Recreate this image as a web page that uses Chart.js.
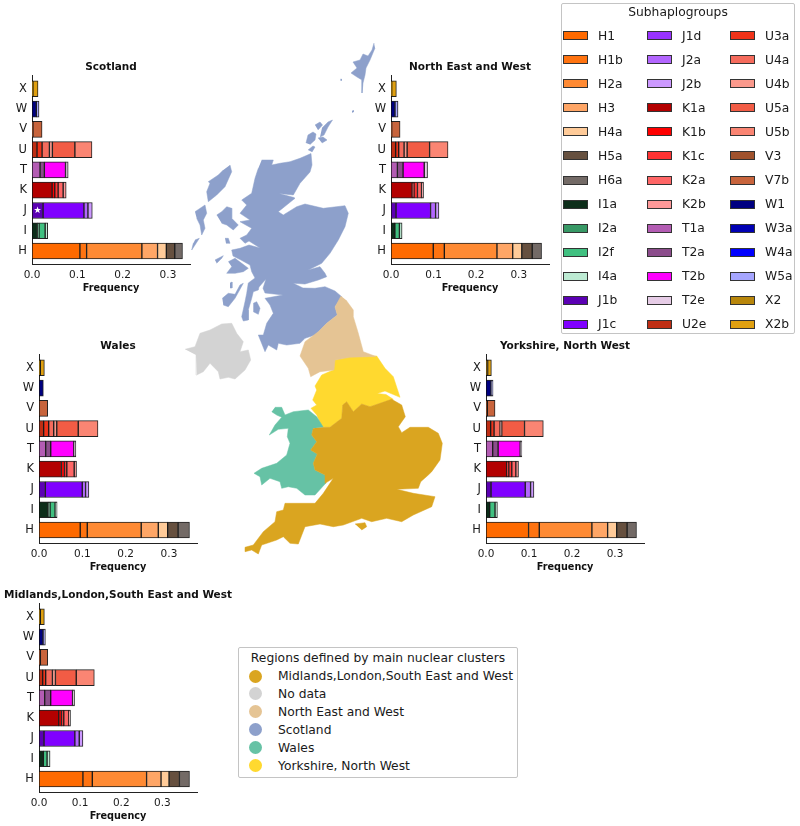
<!DOCTYPE html>
<html><head><meta charset="utf-8">
<style>
html,body{margin:0;padding:0;background:#fff;width:800px;height:826px;overflow:hidden;font-family:"DejaVu Sans",sans-serif;color:#1a1a1a}
canvas{position:absolute;display:block}
.box{position:absolute;box-sizing:border-box;border:1px solid #c4c4c4;border-radius:2px;background:#fff}
.t{position:absolute;white-space:nowrap;line-height:16px;height:16px}
.s{position:absolute;box-sizing:border-box;border:1px solid #333}
.c{position:absolute;box-sizing:border-box;border-radius:50%}
</style>
<script src="https://cdn.jsdelivr.net/npm/chart.js@4/dist/chart.umd.min.js"></script>
</head><body>
<script>
// ---------- haplogroup data ----------
const categories = ['H','I','J','K','T','U','V','W','X'];
const subhaplogroups = ['H1','H1b','H2a','H3','H4a','H5a','H6a','I1a','I2a','I2f','I4a','J1b','J1c','J1d','J2a','J2b','K1a','K1b','K1c','K2a','K2b','T1a','T2a','T2b','T2e','U2e','U3a','U4a','U4b','U5a','U5b','V3','V7b','W1','W3a','W4a','W5a','X2','X2b'];
const subColors = ['#ff6a00','#ff7310','#ff8a33','#ffa666','#ffcb99','#66503f','#736a66','#0d2e1a','#389966','#40c080','#bdebd3','#5b00b3','#8000ff','#9933ff','#b366ff','#cc99ff','#b30000','#ff0000','#ff3333','#ff6666','#ff9999','#b35cb3','#8c4d8c','#ff00ff','#e6cce6','#bf2e14','#f03319','#f56b5c','#fa998c','#f25c45','#fa8573','#a0522d','#c8643c','#000080','#0000b3','#0000ff','#a6a6ff','#b8860b','#e0a010'];
const scotlandFreq = [.1057,.0148,.1219,.0346,.0194,.0186,.017, .012,.0035,.0135,.0057, .0244,.0902,0,.0088,.0096, .0443,.006,.0073,.0111,.0067, .0177,.0096,.0466,.0059, .011,.0112,.0162,.0066,.0496,.0377, .002,.0202, .0096,0,0,.0059, .002,.0113];
const northEastFreq = [.0992,.026,.1236,.037,.0213,.0244,.022, .0087,.0005,.0105,.0063, .0118,.0811,0,.0118,.0079, .0496,.0044,.0082,.0095,.0047, .015,.0133,.0497,.0078, .011,.0071,.0126,.0071,.0528,.0433, .0016,.0197, .0094,0,0,.0071, .0016,.011];
const walesFreq = [.0951,.0163,.1245,.0394,.0217,.024,.0263, .0209,.0046,.0116,.0047, .0147,.0851,0,.0077,.0077, .0518,.007,.0054,.017,.0054, .0155,.0116,.0533,.0047, .0108,.0116,.0116,.007,.0495,.0456, .0008,.0193, .01,0,0,0, .003,.0094];
const yorkshireFreq = [.099,.0249,.1224,.0366,.0211,.0241,.0219, .0086,0,.0124,.0055, .0117,.0795,0,.0125,.0078, .0483,.0047,.007,.0094,.0062, .0156,.0125,.0514,.0039, .0109,.0078,.014,.0039,.053,.0437, .0031,.0179, .0117,0,0,.0047, .0039,.0086];
const midlandsFreq = [.1068,.0228,.132,.0351,.0195,.0253,.0244, .0106,0,.009,.0073, .0122,.075,0,.0106,.009, .0481,.0065,.0057,.0122,.0041, .0139,.0146,.053,.0049, .009,.0073,.0163,.0074,.0505,.044, .0033,.0179, .0098,0,0,.0057, .0033,.0097];
const xTicks = [0,0.1,0.2,0.3];
const starMark = {region:'Scotland', category:'J', value:0.012, text:'★'};

// ---------- panels ----------
const panels = [
 {title:'Scotland', values:scotlandFreq, xMax:.3486, left:32, top:75},
 {title:'North East and West', values:northEastFreq, xMax:.371, left:391, top:75},
 {title:'Wales', values:walesFreq, xMax:.3647, left:39, top:354},
 {title:'Yorkshire, North West', values:yorkshireFreq, xMax:.3675, left:486, top:354},
 {title:'Midlands,London,South East and West', values:midlandsFreq, xMax:.3842, left:39, top:603}
];

// ---------- map outlines (map units) ----------
const scotlandMainland = [[261.7,160],[273.3,160],[271.7,165],[280,163.3],[290,161.7],[300,158.3],[311,153.5],[312,165],[310,172],[300,183.3],[293.3,195],[279,193.5],[294,197.5],[295,198.3],[278.3,211.7],[283.3,215],[296.7,206.7],[305,204],[323.3,208.3],[345,205.7],[348.3,213.3],[345,226.7],[338.3,240],[330,253.3],[321.7,263.3],[308.3,270],[320,266.7],[325,273.3],[326.7,276.7],[318.3,280],[305,284],[293.3,283.3],[303,288],[315,288.3],[325,286.7],[335,291],[341.7,296.7],[335,306.7],[337.3,315],[326.7,323.3],[318.3,331.7],[315,335],[305,338.3],[300,343.3],[286.7,345],[278.3,343.3],[276.7,350],[268.3,345],[265,351.7],[258.3,335],[263.3,335],[266.7,323.3],[273.3,313.3],[270,305],[265,298.3],[283,295],[265,293],[263,288.3],[266,279],[259,287],[258.3,290],[253.3,291.7],[251.7,298.3],[248.3,310],[248.3,320],[243.3,321],[241.7,316.7],[245,301.7],[246.7,293.3],[248.3,283],[255,278],[251.7,271.7],[250,265],[241,260],[233,256],[231.7,250],[240,248.3],[249,245],[260,248],[249,241],[245,243.3],[240,238.3],[246.7,235],[251.7,228.3],[240,221.7],[250,220],[240,213.3],[246.7,205],[241.7,200],[251.7,193.3],[255,178.3],[258.3,168.3]];
const lewisHarris = [[230,165],[231.7,171.7],[225,186.7],[216.7,195],[208.3,201.7],[206.7,191.7],[210,183.3],[208.3,181.7],[218.3,175],[223.3,170]];
const scotlandOutlines = [
 scotlandMainland, lewisHarris,
 [[195,211.7],[205,205],[206.7,213.3],[203.3,220],[205,228.3],[201.7,235],[200,225],[196.7,218.3]],
 [[195,240],[199.3,238.3],[195,245],[191.7,250],[193.3,243.3]],
 [[216.7,215],[221.7,211.7],[226.7,206.7],[231.7,208.3],[231.7,218.3],[238.3,225],[233.3,230],[226.7,225],[221.7,223.3]],
 [[225,238.3],[228.3,238.3],[230,243.3],[226,243.3]],
 [[215,260],[223.3,255.7],[221.7,258.3],[216.7,263.3]],
 [[228.3,261.7],[235,258.3],[241.7,263.3],[248.3,268.3],[243.3,271.7],[235,273.3],[226.7,273.3],[231.7,266.7]],
 [[222.3,298.3],[228.3,293.3],[235,294.3],[240,285],[243.3,283.3],[235,298.3],[228.3,306.7],[223.3,305]],
 [[253.3,303.3],[256.7,301.7],[260,308.3],[258.3,314.3],[253.3,311.7]],
 [[230,283],[232,282],[232,288],[230,288]],
 [[306,143],[308,135],[313,132],[316,134],[315,140],[310,144.5]],
 [[308,150],[313,146],[315,147],[312,152]],
 [[315,125],[320,122],[322.5,125],[318,130]],
 [[322,128],[328,122],[332.5,120],[328,127],[324,135],[320,137]],
 [[318,138],[323,137],[327,140],[322,143]],
 [[374,43],[372,50],[368,56],[363,54],[360,60],[353,62],[357,68],[351,73],[357,77],[362,80],[362,93],[363,83],[365,75],[366,68],[370,60],[375,48]],
 [[340.5,79],[341.5,79],[341.5,80.5],[340.5,80.5]],
 [[352,111],[353.5,110.5],[353.5,112],[352,112.5]]
];
const noDataOutlines = [
 [[185,349.3],[195,346.7],[200,333.3],[210,330],[221.7,324],[231.7,323.3],[236.7,333.3],[243.3,341.7],[240,351.7],[248.3,350],[250.7,360],[245,370],[235,379],[228.3,377.3],[220,379],[218.3,371.7],[210,363.3],[203.3,371.7],[196.7,375],[196,355]]
];
const northEastOutlines = [
 [[341,296],[335,307],[337.3,315],[326.7,323.3],[318.3,331.7],[305,341.7],[300,356],[308.3,368.3],[310.7,376.7],[320,371.7],[334,370],[335,360],[350,357.3],[376,356.5],[363.3,351.7],[358.3,333.3],[353.3,316.7],[353.3,310],[346,300]]
];
const yorkshireOutlines = [
 [[334,360],[350,356.7],[376.7,356],[385,368.3],[393.3,376.7],[400,397.3],[385,391],[377,393.5],[386,394.5],[393.3,399.3],[380,403.3],[370,406.7],[361.7,404],[353.3,411.7],[346.7,401.7],[342.7,405],[341.7,418.3],[330,427.3],[321.7,426.7],[316.7,415],[311,408.3],[316.7,405],[312.7,400],[316.7,390],[315,386],[321.7,375],[333.3,370]]
];
const walesOutlines = [
 [[275,407.3],[281.7,407.3],[285,415],[293.3,411.7],[308.3,410],[316.7,416.7],[323.3,427.3],[313.3,428.3],[311.7,435],[316.7,441.7],[310.7,450],[317.3,454],[313.3,463.3],[315,470],[325,475],[325.7,483.3],[315,495],[305,495],[296.7,488.3],[288.3,486.7],[281.7,488.3],[280,481.7],[270,478.3],[261.7,485],[260,476.7],[254,473.3],[261.7,468.3],[276.7,463.3],[286.7,455],[290,443.3],[287.3,436.7],[288.3,428.3],[278.3,429.3],[269.3,435],[275,425],[281.7,417.3],[276.7,415],[271.7,411.7]]
];
const midlandsOutlines = [
 [[323.3,427.3],[330,427.3],[341.7,418.3],[342.7,405],[346.7,401.7],[353.3,411.7],[361.7,404],[370,406.7],[380,403.3],[391.7,399.3],[401.7,405],[405.3,416.7],[398.3,426.7],[401.7,432.7],[410,427.3],[428.3,427.3],[438.3,433.3],[442.3,443.3],[440,460],[431.7,471.7],[428.3,475],[420.7,481.7],[418.3,488.3],[396.7,489.3],[413.3,493.3],[435,496.7],[431.7,506.7],[413.3,515],[401.7,521.7],[386.7,518.3],[371.7,521.7],[361.7,518.3],[343.3,525],[333.3,526.7],[320,524],[305,526.7],[298.3,544],[290,543.3],[283.3,536.7],[276.7,540],[261.7,545],[258.3,554],[251.7,550],[245,551.7],[245,547.3],[253.3,545],[263.3,531.7],[275,521.7],[276.7,511.7],[283.3,510],[285,503.3],[315,503.3],[323.3,493.3],[333.3,478.3],[325,483.3],[325,475],[315,470],[313.3,463.3],[317.3,454],[310.7,450],[316.7,441.7],[311.7,435],[313.3,428.3]],
 [[355,524],[365,522.7],[366.7,526.7],[361.7,530]]
];
const regionNames = ['Midlands,London,South East and West','No data','North East and West','Scotland','Wales','Yorkshire, North West'];
const regionColors = ['#daa520','#d3d3d3','#e5c494','#8da0cb','#66c2a5','#ffd92f'];
const regionOutlines = [midlandsOutlines,noDataOutlines,northEastOutlines,scotlandOutlines,walesOutlines,yorkshireOutlines];

// ---------- helpers ----------
const FONT = '"DejaVu Sans", sans-serif';
const INK = '#1a1a1a';
function addCanvas(left,top,w,h){
  const c=document.createElement('canvas');
  c.width=w;c.height=h;c.style.left=left+'px';c.style.top=top+'px';c.style.width=w+'px';c.style.height=h+'px';
  document.body.appendChild(c);return c;
}
const starPlugin = {id:'starPlugin',afterDatasetsDraw(chart,args,opts){
  if(!opts.on) return;
  const {ctx,scales}=chart;
  ctx.save();ctx.fillStyle='#fff';ctx.font='9px '+FONT;ctx.textAlign='center';ctx.textBaseline='middle';
  ctx.fillText(starMark.text,scales.x.getPixelForValue(starMark.value),scales.y.getPixelForValue(categories.indexOf(starMark.category)));
  ctx.restore();
}};
// fills each outline from the points the scatter controller placed through its scales
const polygonFill = {id:'polygonFill',beforeDatasetDraw(chart,args){
  const meta=chart.getDatasetMeta(args.index), ctx=chart.ctx;
  ctx.save();ctx.beginPath();
  meta.data.forEach((pt,i)=>{ i?ctx.lineTo(pt.x,pt.y):ctx.moveTo(pt.x,pt.y); });
  ctx.closePath();ctx.fillStyle=chart.data.datasets[args.index].backgroundColor;ctx.fill();ctx.restore();
}};

// ---------- map ----------
(function(){
  const datasets=[];
  regionOutlines.forEach((polys,r)=>polys.forEach(poly=>{
    datasets.push({label:regionNames[r],data:poly.map(p=>({x:p[0],y:p[1]})),showLine:true,fill:false,tension:0,
      backgroundColor:regionColors[r],borderColor:regionColors[r],borderWidth:0.5,pointRadius:0});
  }));
  new Chart(addCanvas(180,40,280,530),{type:'scatter',plugins:[polygonFill],data:{datasets},options:{
    responsive:false,animation:false,events:[],layout:{padding:0},
    plugins:{legend:{display:false},tooltip:{enabled:false}},
    scales:{x:{type:'linear',display:false,min:180,max:460},y:{type:'linear',display:false,min:40,max:570,reverse:true}}
  }});
})();

// ---------- bar panels ----------
const SIDE=36, PLOT_W=158, PLOT_H=189, TITLE_H=14, AXIS_H=30;
panels.forEach(p=>{
  const datasets=[];
  subhaplogroups.forEach((name,i)=>{
    if(!p.values[i]) return;
    datasets.push({label:name,stack:'all',barThickness:16,backgroundColor:subColors[i],borderColor:'rgba(10,10,10,.9)',borderWidth:1,borderSkipped:false,
      data:[{x:p.values[i],y:categories.indexOf(name[0])}]});
  });
  new Chart(addCanvas(p.left-SIDE,p.top-TITLE_H,PLOT_W+2*SIDE,TITLE_H+PLOT_H+AXIS_H),{type:'bar',plugins:[starPlugin],data:{datasets},options:{
    indexAxis:'y',responsive:false,animation:false,events:[],layout:{padding:0},
    plugins:{legend:{display:false},tooltip:{enabled:false},
      starPlugin:{on:p.title===starMark.region},
      title:{display:true,text:p.title,color:'#111',font:{family:FONT,size:10.5,weight:'bold',lineHeight:1.2},padding:{top:0,bottom:2}}},
    scales:{
      x:{type:'linear',stacked:true,min:0,max:p.xMax,position:'bottom',
        afterBuildTicks:s=>{s.ticks=xTicks.map(v=>({value:v}));},
        afterFit:s=>{s.height=AXIS_H;},
        grid:{display:false,drawTicks:false},border:{display:true,color:'#222',width:1},
        ticks:{color:INK,font:{family:FONT,size:10.5},padding:5,maxRotation:0,autoSkip:false,callback:v=>Number(v).toFixed(1)},
        title:{display:true,text:'Frequency',color:'#111',font:{family:FONT,size:9.7,weight:'bold',lineHeight:1.2},padding:0}},
      y:{type:'linear',stacked:true,offset:false,position:'left',min:-0.64,max:8.65,
        afterBuildTicks:s=>{s.ticks=categories.map((c,i)=>({value:i}));},
        afterFit:s=>{s.width=SIDE;},
        grid:{display:false,drawTicks:false},border:{display:true,color:'#222',width:1},
        ticks:{color:INK,font:{family:FONT,size:11.5},padding:5,autoSkip:false,callback:v=>categories[v]}},
      y2:{type:'linear',position:'right',display:true,min:0,max:1,
        afterFit:s=>{s.width=SIDE;},
        grid:{display:false,drawTicks:false},border:{display:false},ticks:{display:false}}
    }
  }});
});

// ---------- legends ----------
function el(cls,css,text){const d=document.createElement('div');d.className=cls;Object.assign(d.style,css);if(text)d.textContent=text;document.body.appendChild(d);return d;}
const SUB_TITLE='Subhaplogroups', REGION_TITLE='Regions defined by main nuclear clusters';
el('box',{left:'561px',top:'3px',width:'234px',height:'331px'});
el('t',{left:'561px',width:'234px',top:'4px',textAlign:'center',fontSize:'12.3px'},SUB_TITLE);
const swatchX=[563,647,730], labelX=[598,682,765];
subhaplogroups.forEach((name,i)=>{
  const col=Math.floor(i/13),row=i%13,y=35.7+row*24.05;
  el('s',{left:swatchX[col]+'px',top:(y-4.5)+'px',width:'25px',height:'9px',background:subColors[i]});
  el('t',{left:labelX[col]+'px',top:(y-8)+'px',fontSize:'12.3px'},name);
});
el('box',{left:'238px',top:'647px',width:'280px',height:'131px'});
el('t',{left:'238px',width:'280px',top:'650px',textAlign:'center',fontSize:'12.3px'},REGION_TITLE);
regionNames.forEach((name,i)=>{
  const y=676+i*17.95;
  el('c',{left:'249px',top:(y-6.5)+'px',width:'13px',height:'13px',background:regionColors[i]});
  el('t',{left:'278px',top:(y-8)+'px',fontSize:'12.3px'},name);
});
</script>
</body></html>
